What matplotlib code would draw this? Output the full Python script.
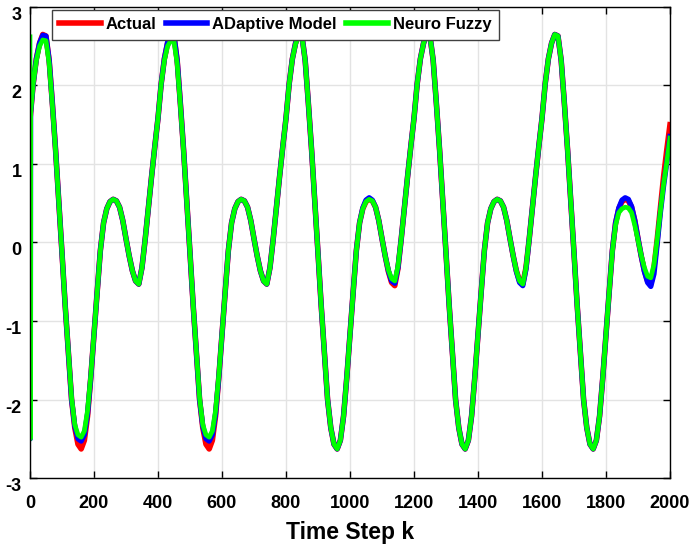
import matplotlib
matplotlib.use('Agg')
import matplotlib.pyplot as plt
import numpy as np

plt.rcParams['font.family'] = ['Liberation Sans', 'DejaVu Sans']
plt.rcParams['font.weight'] = 'bold'
plt.rcParams['axes.unicode_minus'] = False

# time steps: first three samples, then every 10 steps up to 2000
k = [0, 1, 2] + list(range(10, 2001, 10))

# Actual plant output
actual = [1.57, 1.61, 1.65,
    # 10..400
    2.02, 2.34, 2.54, 2.65, 2.63, 2.32, 1.77, 1.18, 0.53, -0.13,
    -0.80, -1.41, -2.00, -2.36, -2.57, -2.63, -2.52, -2.21, -1.72, -1.17,
    -0.63, -0.10, 0.25, 0.43, 0.52, 0.55, 0.53, 0.45, 0.28, 0.05,
    -0.17, -0.36, -0.49, -0.53, -0.32, 0.04, 0.44, 0.84, 1.22, 1.58,
    # 410..800
    2.02, 2.34, 2.54, 2.65, 2.63, 2.32, 1.77, 1.18, 0.53, -0.13,
    -0.80, -1.41, -2.00, -2.36, -2.57, -2.63, -2.52, -2.21, -1.72, -1.17,
    -0.63, -0.10, 0.25, 0.43, 0.52, 0.55, 0.53, 0.45, 0.28, 0.05,
    -0.17, -0.36, -0.49, -0.53, -0.32, 0.04, 0.44, 0.84, 1.22, 1.58,
    # 810..1200
    2.02, 2.34, 2.54, 2.65, 2.63, 2.32, 1.77, 1.18, 0.53, -0.13,
    -0.80, -1.41, -2.00, -2.36, -2.57, -2.63, -2.52, -2.21, -1.72, -1.17,
    -0.63, -0.10, 0.25, 0.43, 0.52, 0.55, 0.53, 0.45, 0.28, 0.05,
    -0.17, -0.37, -0.51, -0.55, -0.33, 0.04, 0.44, 0.84, 1.22, 1.58,
    # 1210..1600
    2.02, 2.34, 2.54, 2.65, 2.63, 2.32, 1.77, 1.18, 0.53, -0.13,
    -0.80, -1.41, -2.00, -2.36, -2.57, -2.63, -2.52, -2.21, -1.72, -1.17,
    -0.63, -0.10, 0.25, 0.43, 0.52, 0.55, 0.53, 0.45, 0.28, 0.05,
    -0.17, -0.36, -0.49, -0.53, -0.32, 0.04, 0.44, 0.84, 1.22, 1.58,
    # 1610..2000
    2.02, 2.34, 2.54, 2.65, 2.63, 2.32, 1.77, 1.18, 0.53, -0.13,
    -0.80, -1.41, -2.00, -2.36, -2.57, -2.63, -2.52, -2.21, -1.72, -1.17,
    -0.63, -0.10, 0.25, 0.43, 0.52, 0.55, 0.53, 0.45, 0.28, 0.05,
    -0.17, -0.36, -0.49, -0.53, -0.32, 0.04, 0.44, 0.84, 1.18, 1.50]

# Adaptive model output
adaptive = [-2.50, -2.50, 1.65,
    2.02, 2.34, 2.54, 2.64, 2.63, 2.32, 1.77, 1.18, 0.53, -0.13,
    -0.80, -1.41, -2.00, -2.34, -2.50, -2.53, -2.45, -2.18, -1.72, -1.17,
    -0.63, -0.10, 0.25, 0.43, 0.52, 0.55, 0.53, 0.45, 0.28, 0.05,
    -0.17, -0.36, -0.49, -0.53, -0.32, 0.04, 0.44, 0.84, 1.22, 1.58,
    2.02, 2.34, 2.55, 2.64, 2.64, 2.32, 1.77, 1.18, 0.53, -0.13,
    -0.80, -1.41, -2.00, -2.34, -2.50, -2.53, -2.45, -2.18, -1.72, -1.17,
    -0.63, -0.10, 0.25, 0.43, 0.52, 0.55, 0.53, 0.45, 0.28, 0.05,
    -0.17, -0.36, -0.49, -0.53, -0.32, 0.04, 0.44, 0.84, 1.22, 1.58,
    2.02, 2.34, 2.54, 2.65, 2.63, 2.32, 1.77, 1.18, 0.53, -0.13,
    -0.80, -1.41, -2.00, -2.36, -2.57, -2.63, -2.52, -2.21, -1.72, -1.17,
    -0.63, -0.10, 0.25, 0.44, 0.54, 0.57, 0.54, 0.45, 0.28, 0.05,
    -0.17, -0.36, -0.49, -0.52, -0.32, 0.04, 0.44, 0.84, 1.22, 1.58,
    2.02, 2.34, 2.54, 2.65, 2.63, 2.32, 1.77, 1.18, 0.53, -0.13,
    -0.80, -1.41, -2.00, -2.36, -2.57, -2.63, -2.52, -2.21, -1.72, -1.17,
    -0.63, -0.10, 0.25, 0.43, 0.52, 0.55, 0.53, 0.45, 0.28, 0.05,
    -0.17, -0.37, -0.51, -0.55, -0.34, 0.04, 0.44, 0.84, 1.22, 1.58,
    2.02, 2.34, 2.54, 2.65, 2.63, 2.32, 1.77, 1.18, 0.53, -0.13,
    -0.80, -1.41, -2.00, -2.36, -2.57, -2.63, -2.52, -2.21, -1.72, -1.17,
    -0.63, -0.10, 0.25, 0.44, 0.54, 0.57, 0.55, 0.46, 0.28, 0.05,
    -0.17, -0.37, -0.51, -0.56, -0.40, -0.02, 0.38, 0.72, 1.02, 1.35]

# Neuro fuzzy output
neuro = [2.62, -2.50, 1.65,
    2.02, 2.32, 2.50, 2.58, 2.57, 2.28, 1.75, 1.17, 0.53, -0.13,
    -0.80, -1.40, -1.98, -2.32, -2.45, -2.48, -2.40, -2.14, -1.70, -1.17,
    -0.63, -0.10, 0.25, 0.43, 0.52, 0.55, 0.53, 0.45, 0.28, 0.05,
    -0.17, -0.36, -0.49, -0.53, -0.32, 0.04, 0.44, 0.84, 1.22, 1.58,
    2.02, 2.32, 2.50, 2.57, 2.56, 2.28, 1.75, 1.17, 0.53, -0.13,
    -0.80, -1.40, -1.98, -2.32, -2.45, -2.48, -2.40, -2.14, -1.70, -1.17,
    -0.63, -0.10, 0.25, 0.43, 0.52, 0.55, 0.53, 0.45, 0.28, 0.05,
    -0.17, -0.36, -0.49, -0.53, -0.32, 0.04, 0.44, 0.84, 1.22, 1.58,
    2.02, 2.34, 2.53, 2.63, 2.62, 2.32, 1.77, 1.18, 0.53, -0.13,
    -0.80, -1.41, -2.00, -2.36, -2.57, -2.63, -2.52, -2.21, -1.72, -1.17,
    -0.63, -0.10, 0.25, 0.43, 0.52, 0.55, 0.53, 0.45, 0.28, 0.05,
    -0.17, -0.35, -0.46, -0.49, -0.30, 0.04, 0.44, 0.84, 1.22, 1.58,
    2.02, 2.34, 2.54, 2.65, 2.63, 2.32, 1.77, 1.18, 0.53, -0.13,
    -0.80, -1.41, -2.00, -2.36, -2.57, -2.63, -2.52, -2.21, -1.72, -1.17,
    -0.63, -0.10, 0.25, 0.43, 0.52, 0.55, 0.53, 0.45, 0.28, 0.05,
    -0.17, -0.36, -0.49, -0.53, -0.32, 0.04, 0.44, 0.84, 1.22, 1.58,
    2.02, 2.34, 2.54, 2.65, 2.63, 2.32, 1.77, 1.18, 0.53, -0.13,
    -0.80, -1.41, -2.00, -2.36, -2.57, -2.63, -2.52, -2.21, -1.72, -1.17,
    -0.63, -0.11, 0.22, 0.38, 0.43, 0.45, 0.44, 0.38, 0.22, 0.03,
    -0.16, -0.32, -0.43, -0.45, -0.28, 0.04, 0.40, 0.74, 1.02, 1.33]

x_ticks = [0, 200, 400, 600, 800, 1000, 1200, 1400, 1600, 1800, 2000]
y_ticks = [-3, -2, -1, 0, 1, 2, 3]

fig = plt.figure(figsize=(6.89, 5.49), dpi=100)
ax = fig.add_axes([0.0435, 0.1293, 0.9289, 0.858])

ax.plot(k, actual, color='#ff0000', linewidth=4.0, label='Actual')
ax.plot(k, adaptive, color='#0000ff', linewidth=3.8, label='ADaptive Model')
ax.plot(k, neuro, color='#00ff00', linewidth=3.4, label='Neuro Fuzzy')

ax.set_xlim(0, 2000)
ax.set_ylim(-3, 3)
ax.set_xticks(x_ticks)
ax.set_yticks(y_ticks)
ax.grid(True, color='#e3e3e3', linewidth=1.0)
ax.set_axisbelow(True)

ax.tick_params(direction='in', top=True, right=True, length=5, width=1,
               labelsize=13, colors='black')
ax.tick_params(axis='x', pad=12)
ax.tick_params(axis='y', pad=6)
for lab in ax.get_yticklabels():
    lab.set_fontweight('bold')
    lab.set_va('top')
for lab in ax.get_xticklabels():
    lab.set_fontweight('bold')
for sp in ax.spines.values():
    sp.set_linewidth(1.0)

ax.set_xlabel('Time Step k', fontsize=16.5, fontweight='bold', labelpad=7)

leg = ax.legend(ncol=3, loc='upper left', bbox_to_anchor=(0.034, 0.994),
                borderaxespad=0, handlelength=2.5, handletextpad=0.3,
                columnspacing=0.55, borderpad=0.45, fancybox=False,
                framealpha=1, edgecolor='#404040',
                prop={'size': 12, 'weight': 'bold'})
leg.get_frame().set_linewidth(1.0)
for line in leg.get_lines():
    line.set_linewidth(4)

plt.savefig('out.png', dpi=100)
